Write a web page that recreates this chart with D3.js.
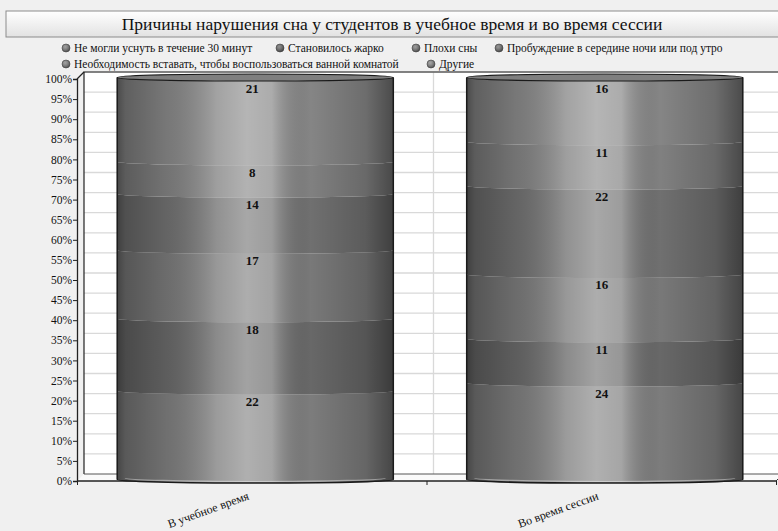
<!DOCTYPE html>
<html>
<head>
<meta charset="utf-8">
<script src="https://cdn.jsdelivr.net/npm/d3@7"></script>
<style>
  body { margin: 0; background: #f0f0f0; }
  svg text { font-family: "Liberation Serif", "DejaVu Serif", serif; }
</style>
</head>
<body>
<script>
// data
const categories = ["В учебное время", "Во время сессии"];
const seriesNames = [
  "Не могли уснуть в течение 30 минут",
  "Становилось жарко",
  "Плохи сны",
  "Пробуждение в середине ночи или под утро",
  "Необходимость вставать, чтобы воспользоваться ванной комнатой",
  "Другие"
];
const cantSleep = [22, 24];
const tooHot = [18, 11];
const badDreams = [17, 16];
const wakeUp = [14, 22];
const bathroom = [8, 11];
const other = [21, 16];
const title = "Причины нарушения сна у студентов в учебное время и во время сессии";

const colors = ["#7f7f7f", "#6a6a6a", "#7b7b7b", "#727272", "#838383", "#888888"];
const serif = "'Liberation Serif', 'DejaVu Serif', serif";

let w = 778;
let h = 531;
let depth = 7;

let svg = d3.select("body").append("svg")
  .attr("width", w)
  .attr("height", h)
  .style("background-color", "#f0f0f0");

let defs = svg.append("defs");

// title bar gradient
let tg = defs.append("linearGradient").attr("id", "titlegrad")
  .attr("x1", 0).attr("y1", 0).attr("x2", 0).attr("y2", 1);
tg.append("stop").attr("offset", "0%").attr("stop-color", "#ffffff");
tg.append("stop").attr("offset", "100%").attr("stop-color", "#e2e2e2");

// cylinder shading (dark edges, light middle)
let sg = defs.append("linearGradient").attr("id", "shade")
  .attr("x1", 0).attr("y1", 0).attr("x2", 1).attr("y2", 0);
[[0, "#000", 0.45], [0.03, "#000", 0.3], [0.18, "#000", 0.12], [0.36, "#fff", 0.22],
 [0.47, "#fff", 0.38], [0.56, "#fff", 0.3], [0.7, "#000", 0.02], [0.9, "#000", 0.2], [1, "#000", 0.45]]
  .forEach(s => sg.append("stop").attr("offset", s[0]).attr("stop-color", s[1]).attr("stop-opacity", s[2]));

let lg = defs.append("radialGradient").attr("id", "dot")
  .attr("cx", "40%").attr("cy", "35%").attr("r", "65%");
lg.append("stop").attr("offset", "0%").attr("stop-color", "#fff").attr("stop-opacity", 0.25);
lg.append("stop").attr("offset", "100%").attr("stop-color", "#000").attr("stop-opacity", 0.4);

// title
svg.append("rect")
  .attr("x", 6).attr("y", 11).attr("width", 790).attr("height", 26)
  .attr("fill", "url(#titlegrad)")
  .attr("stroke", "#8c8c8c");
svg.append("text")
  .attr("x", 392).attr("y", 30)
  .attr("text-anchor", "middle")
  .style("font-family", serif)
  .style("font-size", "17.5px")
  .attr("fill", "#111")
  .text(title);

// legend
let legendRows = [[0, 1, 2, 3], [4, 5]];
let legendX = [[62, 276, 412, 495], [62, 427]];
let legend = svg.append("g").attr("class", "legend");
legendRows.forEach((row, ri) => {
  row.forEach((i, j) => {
    let g = legend.append("g").attr("transform", `translate(${legendX[ri][j]},${52 + ri * 16})`);
    g.append("circle").attr("cx", 4).attr("cy", -4).attr("r", 4).attr("fill", colors[i]);
    g.append("circle").attr("cx", 4).attr("cy", -4).attr("r", 4).attr("fill", "url(#dot)")
      .attr("stroke", "#444").attr("stroke-width", 0.6);
    g.append("text").attr("x", 12).attr("y", 0)
      .style("font-family", serif)
      .style("font-size", "11.5px").attr("fill", "#111")
      .text(seriesNames[i]);
  });
});

// scales
let yScale = d3.scaleLinear().domain([0, 1]).range([481, 79]);
let xScale = d3.scaleBand().domain(categories).range([77, 776]);

let x0 = 77, x1 = 776, yTop = 79, yBot = 481;

// back wall
svg.append("rect")
  .attr("x", x0 + depth).attr("y", yTop - depth)
  .attr("width", w - x0).attr("height", yBot - yTop)
  .attr("fill", "#fff");

// gridlines on the back wall
svg.append("g").selectAll("line").data(yScale.ticks(20).slice(1)).enter()
  .append("line")
  .attr("x1", x0 + depth).attr("x2", w)
  .attr("y1", d => yScale(d) - depth).attr("y2", d => yScale(d) - depth)
  .attr("stroke", "#d9d9d9").attr("stroke-width", 1.3);
svg.append("line")
  .attr("x1", xScale(categories[1]) + depth).attr("x2", xScale(categories[1]) + depth)
  .attr("y1", yTop - depth).attr("y2", yBot - depth)
  .attr("stroke", "#d9d9d9").attr("stroke-width", 1.3);

// wall edges
svg.append("path")
  .attr("d", `M${x0 + depth},${yBot - depth}V${yTop - depth}H${w + 5}`)
  .attr("fill", "none").attr("stroke", "#222").attr("stroke-width", 1.2);
svg.append("path")
  .attr("d", `M${x0},${yTop}L${x0 + depth},${yTop - depth}`)
  .attr("fill", "none").attr("stroke", "#222").attr("stroke-width", 1.2);

// floor
svg.append("path")
  .attr("d", `M${x0},${yBot}L${x0 + depth},${yBot - depth}H${x1 + depth}L${x1},${yBot}Z`)
  .attr("fill", "#fafafa").attr("stroke", "none");
svg.append("line")
  .attr("x1", x0 + depth).attr("x2", w).attr("y1", yBot - depth).attr("y2", yBot - depth)
  .attr("stroke", "#555").attr("stroke-width", 1);
svg.append("path")
  .attr("d", `M${x1},${yBot}L${x1 + depth},${yBot - depth}`)
  .attr("fill", "none").attr("stroke", "#333").attr("stroke-width", 1);

// y axis
let yAxis = d3.axisLeft(yScale).ticks(20).tickFormat(d3.format(".0%")).tickSize(4).tickPadding(1);
let yAxisGroup = svg.append("g").attr("transform", `translate(${x0},0)`).call(yAxis);
yAxisGroup.attr("font-family", null);
yAxisGroup.select(".domain").attr("stroke", "#222").attr("stroke-width", 1.3);
yAxisGroup.selectAll(".tick line").attr("stroke", "#222");
yAxisGroup.selectAll("text").style("font-size", "11.5px").attr("fill", "#111")
  .style("font-family", serif);

// x axis
let xAxis = d3.axisBottom(d3.scaleLinear().domain([0, 2]).range([x0, x1]))
  .ticks(2).tickSize(4).tickFormat("");
let xAxisGroup = svg.append("g").attr("transform", `translate(0,${yBot})`).call(xAxis);
xAxisGroup.select(".domain").attr("stroke", "#222").attr("stroke-width", 1.6).attr("d", `M${x0},0H${x1}`);
xAxisGroup.selectAll(".tick line").attr("stroke", "#222");

svg.append("g").selectAll("text").data(categories).enter()
  .append("text")
  .attr("text-anchor", "end")
  .attr("transform", d => `translate(${xScale(d) + xScale.bandwidth() / 2 - 2},${yBot + 18}) rotate(-20)`)
  .style("font-family", serif)
  .style("font-size", "12px")
  .attr("fill", "#111")
  .text(d => d);

// stacked data
let keys = seriesNames;
let seriesValues = [cantSleep, tooHot, badDreams, wakeUp, bathroom, other];
let table = categories.map((c, ci) => {
  let row = { category: c };
  keys.forEach((k, ki) => { row[k] = seriesValues[ki][ci]; });
  return row;
});
let stacked = d3.stack().keys(keys).offset(d3.stackOffsetExpand)(table);

let cylW = xScale.bandwidth() * 0.79;
let ry = 3.5;
let lift = 1.5;
let cyl = d => {
  let cx = xScale(d.category) + xScale.bandwidth() / 2 + depth / 2;
  return { cx: cx, l: cx - cylW / 2, r: cx + cylW / 2, rx: cylW / 2 };
};

function segPath(c, yt, yb) {
  return `M${c.l},${yt}L${c.l},${yb}A${c.rx},${ry} 0 0 0 ${c.r},${yb}` +
    `L${c.r},${yt}A${c.rx},${ry} 0 0 1 ${c.l},${yt}Z`;
}

let cylGroup = svg.append("g").attr("class", "cylinders");

stacked.forEach((s, si) => {
  let segs = cylGroup.selectAll(".seg" + si).data(s).enter().append("g").attr("class", "seg" + si);
  segs.append("path")
    .attr("d", d => segPath(cyl(d.data), yScale(d[1]) - lift, yScale(d[0]) - lift))
    .attr("fill", colors[si]);
  segs.append("path")
    .attr("d", d => segPath(cyl(d.data), yScale(d[1]) - lift, yScale(d[0]) - lift))
    .attr("fill", "url(#shade)");
  // soft rim on the upper edge of each band
  segs.append("path")
    .attr("d", d => {
      let c = cyl(d.data), y = yScale(d[1]) - lift;
      return `M${c.l + 2},${y}A${c.rx},${ry} 0 0 0 ${c.r - 2},${y}`;
    })
    .attr("fill", "none").attr("stroke", "#fff").attr("stroke-opacity", 0.07).attr("stroke-width", 1);
});

// top caps and outlines
let topSeries = stacked[stacked.length - 1];
cylGroup.selectAll(".cap").data(topSeries).enter()
  .append("ellipse")
  .attr("class", "cap")
  .attr("cx", d => cyl(d.data).cx)
  .attr("cy", d => yScale(d[1]) - lift)
  .attr("rx", d => cyl(d.data).rx)
  .attr("ry", ry)
  .attr("fill", d3.color(colors[colors.length - 1]).darker(0.2))
  .attr("stroke", "#1a1a1a").attr("stroke-width", 1.2);

cylGroup.selectAll(".outline").data(topSeries).enter()
  .append("path")
  .attr("class", "outline")
  .attr("d", d => {
    let c = cyl(d.data), yb = yScale(0) - lift;
    return `M${c.l},${yScale(d[1]) - lift}L${c.l},${yb}A${c.rx},${ry} 0 0 0 ${c.r},${yb}L${c.r},${yScale(d[1]) - lift}`;
  })
  .attr("fill", "none").attr("stroke", "#1a1a1a").attr("stroke-width", 1.5);

cylGroup.selectAll(".shine").data(topSeries).enter()
  .append("path")
  .attr("d", d => {
    let c = cyl(d.data), yb = yScale(0) - lift - 1.5;
    return `M${c.l + 8},${yb}A${c.rx - 8},${ry} 0 0 0 ${c.r - 8},${yb}`;
  })
  .attr("fill", "none").attr("stroke", "#fff").attr("stroke-opacity", 0.4).attr("stroke-width", 1.2);

// value labels
stacked.forEach((s, si) => {
  cylGroup.selectAll(".lab" + si).data(s).enter()
    .append("text")
    .attr("x", d => cyl(d.data).cx - 3)
    .attr("y", d => yScale(d[1]) - lift + 15)
    .attr("text-anchor", "middle")
    .style("font-family", serif)
    .style("font-size", "13px")
    .style("font-weight", "bold")
    .attr("fill", "#111")
    .text(d => d.data[s.key]);
});
</script>
</body>
</html>
